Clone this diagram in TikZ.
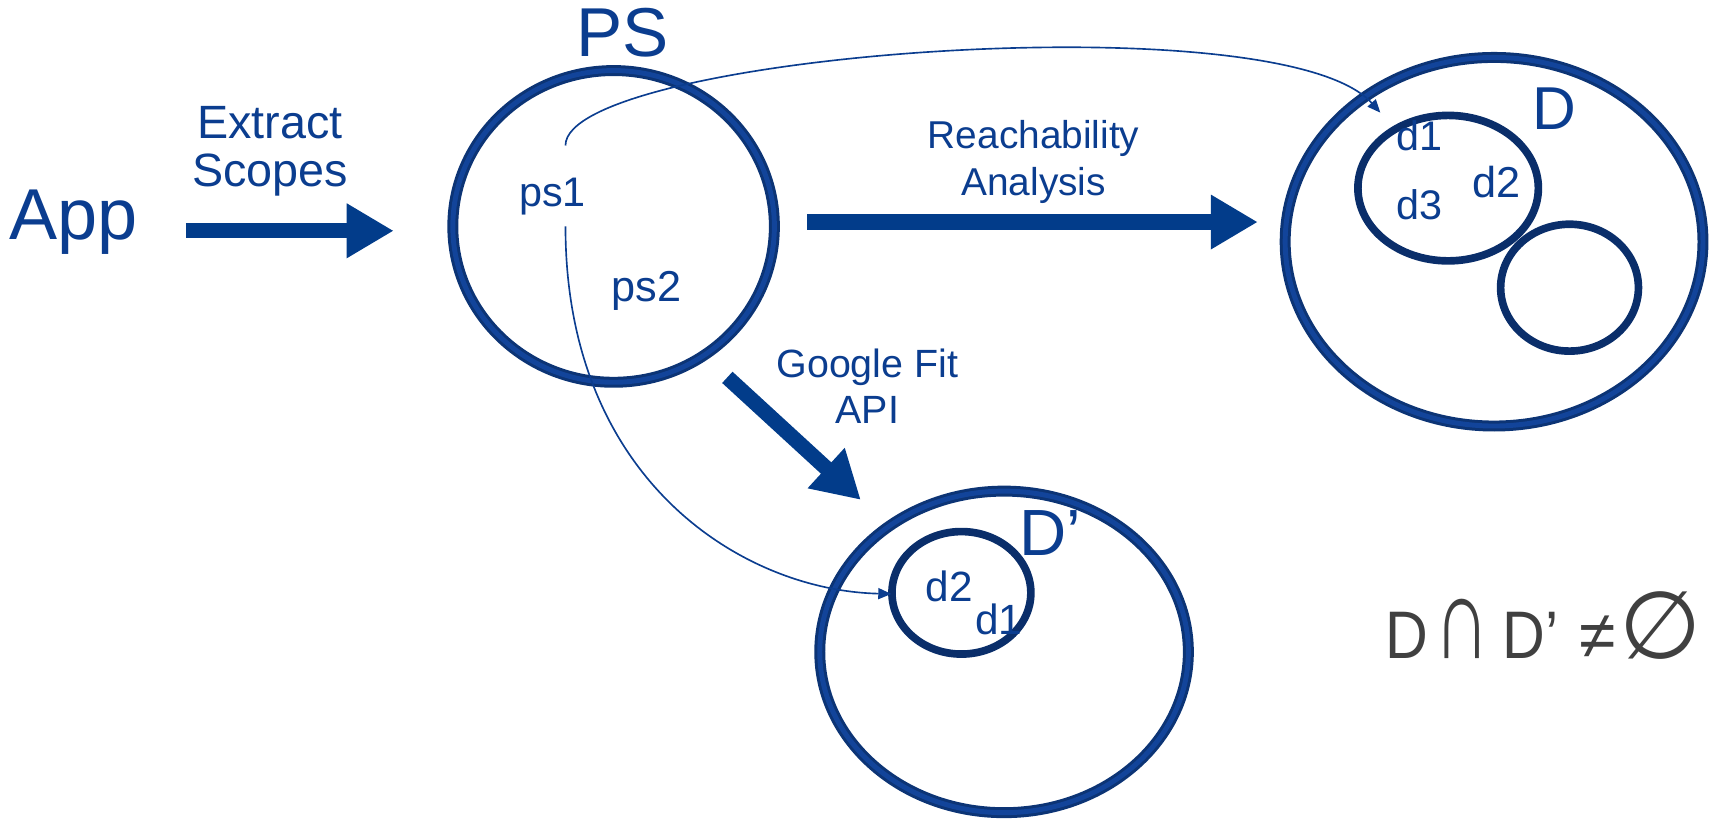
\documentclass[tikz,border=0pt]{standalone}
\usepackage{fontspec}
\usepackage{graphicx}
\setmainfont{Liberation Sans}
\newfontfamily\symfont{DejaVu Sans}
\newfontfamily\formfont{Liberation Sans}[FakeStretch=0.88]
\usetikzlibrary{arrows.meta,shapes.geometric}
\definecolor{inkblue}{HTML}{0B3D8F}
\definecolor{arrowblue}{HTML}{023C8A}
\definecolor{ringdark}{HTML}{0C3475}
\definecolor{ringmid}{HTML}{12449A}
\definecolor{innerring}{HTML}{0A2E6A}
\definecolor{formulagray}{HTML}{404040}
\newcommand{\fsz}[2][1.2]{\fontsize{#2}{#1\dimexpr#2\relax}\selectfont}
\begin{document}
\begin{tikzpicture}[x=0.2mm,y=-0.2mm,
  txt/.style={text=inkblue, inner sep=0pt, anchor=base},
  twoline/.style={text=inkblue, inner sep=0pt, align=center, anchor=center},
  ring/.style={ellipse, inner sep=0pt, draw=ringdark, line width=2mm,
    postaction={draw=ringmid, line width=0.9mm}},
  innerset/.style={ellipse, inner sep=0pt, draw=innerring, line width=1.4mm},
  blockarrow/.style={draw=arrowblue, line width=2.8mm,
    -{Triangle[length=8.6mm, width=9.4mm]}},
  thinlink/.style={draw=inkblue, line width=0.3mm,
    -{Triangle[length=2.4mm, width=2mm]}}
]
\useasboundingbox (0,0) rectangle (1568,758);

% sets drawn as rings
\node[ring, minimum width=294*0.2mm, minimum height=285*0.2mm] (psset) at (561,207) {};
\node[ring, minimum width=382*0.2mm, minimum height=337*0.2mm] (dset) at (1366,221) {};
\node[ring, minimum width=337*0.2mm, minimum height=294*0.2mm] (dpset) at (918,596) {};
\node[innerset, minimum width=165*0.2mm, minimum height=133*0.2mm] (dsub) at (1324,172) {};
\node[innerset, minimum width=126*0.2mm, minimum height=116*0.2mm] (dother) at (1435,263) {};
\node[innerset, minimum width=127*0.2mm, minimum height=112*0.2mm] (dpsub) at (879,542) {};

% labels
\node[txt, font={\fsz{37.5pt}}] (app) at (67,219) {App};
\node[txt, font={\fsz{36pt}}] (pslabel) at (569,52) {PS};
\node[twoline, font={\fsz[1.03]{24.3pt}}] (extract) at (247,138) {Extract\\Scopes};
\node[twoline, font={\fsz{20.2pt}}] (reach) at (945,148) {Reachability\\Analysis};
\node[twoline, font={\fsz[1.16]{20.5pt}}] (gfit) at (793,353) {Google Fit\\API};
\node[txt, font={\fsz{21.5pt}}] (ps1) at (505,189) {ps1};
\node[txt, font={\fsz{22.5pt}}] (ps2) at (591,276) {ps2};
\node[txt, font={\fsz{21.5pt}}] (dd1) at (1298,138) {d1};
\node[txt, font={\fsz{21.5pt}}] (dd3) at (1298,201) {d3};
\node[txt, font={\fsz{22.5pt}}] (dd2) at (1368,181) {d2};
\node[txt, font={\fsz{31.5pt}}] (dlabel) at (1421,118) {D};
\node[txt, font={\fsz{34pt}}] (dplabel) at (960,508) {D’};
\node[txt, font={\fsz{22pt}}] (pd2) at (868,550) {d2};
\node[txt, font={\fsz{22pt}}] (pd1) at (913,580) {d1};
% the set relation, set in a slightly narrowed sans
\node[txt, anchor=base west, text=formulagray, font={\formfont\fsz{35pt}}] (formula) at (1266,602)
  {D\hspace{1.3mm}\scalebox{1.3}[1.75]{∩}\hspace{2.3mm}D’\hspace{3.8mm}\scalebox{1.12}[1]{≠}\hspace{0.6mm}{\symfont\scalebox{1.4}[1.4]{∅}}};

% ends of the block arrows
\coordinate (exs) at (170,211);
\coordinate (exe) at (360,211);
\coordinate (rcs) at (738,203);
\coordinate (rce) at (1150,203);
\coordinate (gfs) at (665,345);
\coordinate (gfe) at (787,457);
% ends of the scope links
\coordinate (ps1top) at (517,133);
\coordinate (ps1bot) at (517,207);
\coordinate (d1in) at (1262,103);
\coordinate (d2in) at (815,543);

\draw[blockarrow] (exs) -- (exe);
\draw[blockarrow] (rcs) -- (rce);
\draw[blockarrow] (gfs) -- (gfe);

\draw[thinlink] (ps1top) .. controls (517,50) and (1170,0) .. (d1in);
\draw[thinlink] (ps1bot) .. controls (517,440) and (680,540) .. (d2in);
\end{tikzpicture}
\end{document}
